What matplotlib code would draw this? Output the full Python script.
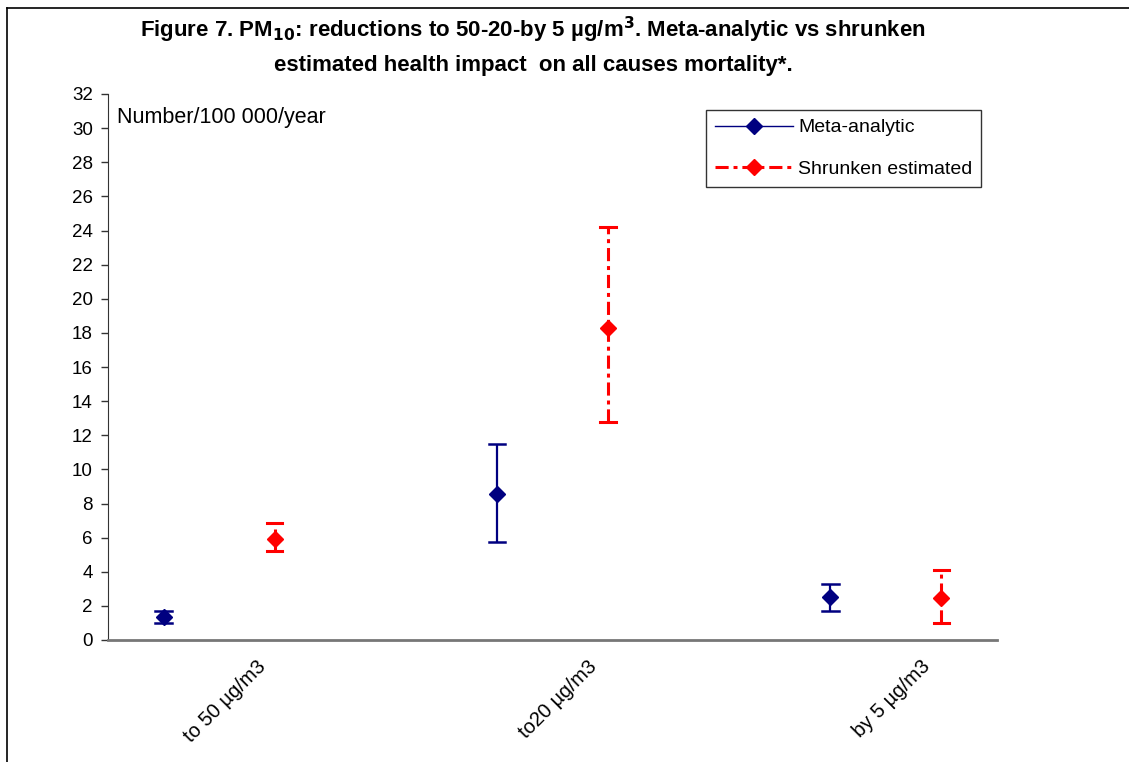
import matplotlib
matplotlib.use("Agg")
import matplotlib.pyplot as plt
from matplotlib.lines import Line2D

plt.rcParams['font.family'] = ['Liberation Sans', 'DejaVu Sans']

categories = ["to 50 µg/m3", "to20 µg/m3", "by 5 µg/m3"]
meta_val = [1.35, 8.55, 2.5]
meta_low = [1.0, 5.75, 1.7]
meta_high = [1.7, 11.5, 3.3]
shr_val = [5.9, 18.3, 2.45]
shr_low = [5.2, 12.75, 1.0]
shr_high = [6.85, 24.2, 4.1]

W, H = 1129, 762
fig = plt.figure(figsize=(W / 100, H / 100), dpi=100)
ax = fig.add_axes([108 / W, 1 - 640 / H, (997 - 108) / W, (640 - 94) / H])

meta_x = [0.5, 3.5, 6.5]
shr_x = [1.5, 4.5, 7.5]
tick_x = [1.05, 4.05, 7.05]
navy = '#000080'
red = '#ff0000'
dd = (4.3, 1.6, 1.3, 1.6)

# Meta-analytic
for x, v, lo, hi in zip(meta_x, meta_val, meta_low, meta_high):
    ax.plot([x, x], [lo, hi], color=navy, lw=1.6, solid_capstyle='butt')
    ax.plot([x - 0.075, x + 0.075], [lo, lo], color=navy, lw=1.8)
    ax.plot([x - 0.075, x + 0.075], [hi, hi], color=navy, lw=1.8)
ax.plot(meta_x, meta_val, linestyle='none', marker='D', color=navy, ms=8, zorder=5)

# Shrunken
for x, v, lo, hi in zip(shr_x, shr_val, shr_low, shr_high):
    ax.plot([x, x], [lo, hi], color=red, lw=2.2, dashes=dd, dash_capstyle='butt')
    ax.plot([x - 0.07, x + 0.07], [lo, lo], color=red, lw=2.2)
    ax.plot([x - 0.07, x + 0.07], [hi, hi], color=red, lw=2.2)
ax.plot(shr_x, shr_val, linestyle='none', marker='D', color=red, ms=8, zorder=5)

ax.set_xlim(0, 8)
ax.set_ylim(0, 32)
ax.set_yticks(range(0, 33, 2))
ax.tick_params(axis='y', labelsize=13.5, length=5, width=1, color='#333333', pad=6)
ax.set_xticks(tick_x)
ax.set_xticklabels(categories, rotation=45, ha='center', va='top', fontsize=14.5)
ax.tick_params(axis='x', length=0, pad=12)
for s in ['top', 'right']:
    ax.spines[s].set_visible(False)
ax.spines['left'].set_color('#333333')
ax.spines['bottom'].set_color('#777777')
ax.spines['bottom'].set_linewidth(2)

fig.text(117 / W, 1 - 118 / H, "Number/100 000/year",
         fontsize=15.5, ha='left', va='center')

fig.text(0.472, 1 - 30 / H, r"Figure 7. PM$_{\mathbf{10}}$: reductions to 50-20-by 5 µg/m$^{\mathbf{3}}$. Meta-analytic vs shrunken",
         ha='center', va='center', fontsize=16, fontweight='bold')
fig.text(0.472, 1 - 66 / H, "estimated health impact  on all causes mortality*.",
         ha='center', va='center', fontsize=16, fontweight='bold')

h1 = Line2D([], [], color=navy, lw=1, marker='D', ms=8, markerfacecolor=navy, markeredgecolor=navy)
h2 = Line2D([], [], color=red, lw=2.2, dashes=dd, marker='D', ms=8)
leg = ax.legend([h1, h2], ["Meta-analytic", "Shrunken estimated"], loc='upper left',
                bbox_to_anchor=((706 - 108) / (997 - 108), (640 - 110) / 546),
                fontsize=14, frameon=True, fancybox=False, edgecolor='black',
                handlelength=4.0, labelspacing=1.25, borderpad=0.45, handletextpad=0.3,
                borderaxespad=0)
leg.get_frame().set_linewidth(1)

fig.add_artist(Line2D([7 / W, 7 / W], [0, 1 - 8 / H], color='black', lw=1.2, transform=fig.transFigure))
fig.add_artist(Line2D([7 / W, 1], [1 - 8 / H, 1 - 8 / H], color='black', lw=1.2, transform=fig.transFigure))

fig.savefig("out.png", dpi=100)
